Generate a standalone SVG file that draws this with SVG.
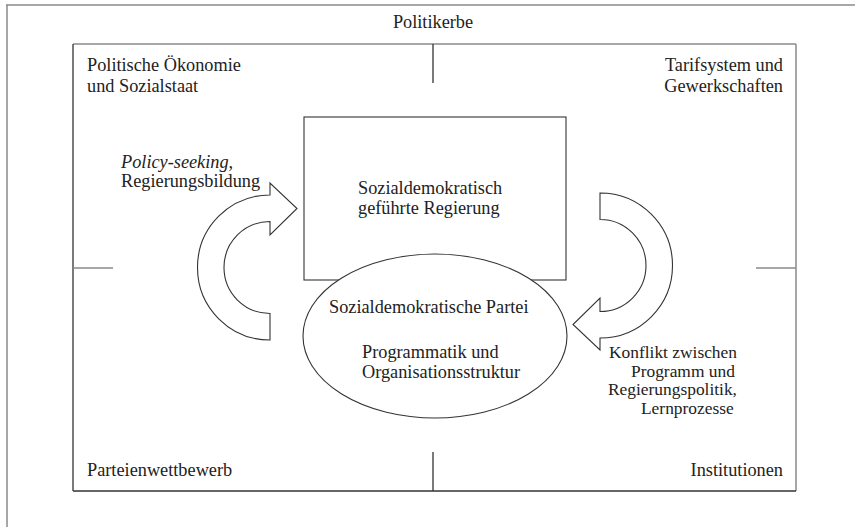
<svg xmlns="http://www.w3.org/2000/svg" width="855" height="527" viewBox="0 0 855 527">
<style>
text{font-family:"Liberation Serif","Times New Roman",serif;font-size:18.3px;fill:#222}
.it{font-style:italic}
.mid{text-anchor:middle}
.end{text-anchor:end}
.sm{font-size:17.4px}
.dark{stroke:#333;stroke-width:1.3;fill:none}
.gray{stroke:#8a8a8a;stroke-width:1.5;fill:none}
.shape{stroke:#333;stroke-width:1.1;fill:#fff}
</style>
<defs>
<path id="curl" d="M270 340 A72.5 72.5 0 0 1 270 195 L270 183 L297 208.5 L270 235 L270 221.5 A46 46 0 0 0 270 313.5 Z"/>
</defs>
<rect width="855" height="527" fill="#fff"/>
<g id="frame">
<line class="gray" x1="6" y1="5" x2="855" y2="5"/>
<line class="gray" x1="7" y1="5" x2="7" y2="527"/>
<line class="gray" x1="73" y1="44" x2="796" y2="44"/>
<line class="gray" x1="796" y1="44" x2="796" y2="491"/>
<line class="dark" x1="73" y1="491" x2="796" y2="491"/>
<line class="dark" x1="73" y1="44" x2="73" y2="491"/>
<line class="dark" x1="433" y1="44" x2="433" y2="83"/>
<line class="dark" x1="433" y1="452" x2="433" y2="491"/>
<line class="gray" x1="73" y1="268" x2="113" y2="268"/>
<line class="gray" x1="756" y1="268" x2="796" y2="268"/>
</g>
<g id="labels">
<text class="mid" x="433" y="28">Politikerbe</text>
<text x="87" y="71">Politische Ökonomie</text>
<text x="87" y="92">und Sozialstaat</text>
<text class="end" x="783" y="71">Tarifsystem und</text>
<text class="end" x="783" y="92">Gewerkschaften</text>
<text x="87" y="476">Parteienwettbewerb</text>
<text class="end" x="783" y="476">Institutionen</text>
</g>
<g id="government">
<rect class="shape" x="304" y="117" width="262" height="163"/>
<text x="358" y="194">Sozialdemokratisch</text>
<text x="358" y="214">geführte Regierung</text>
</g>
<g id="party">
<ellipse class="shape" cx="435" cy="336" rx="132" ry="82"/>
<text x="329" y="313">Sozialdemokratische Partei</text>
<text x="362" y="358">Programmatik und</text>
<text x="362" y="378">Organisationsstruktur</text>
</g>
<g id="connectors">
<use href="#curl" class="shape"/>
<use href="#curl" class="shape" transform="rotate(180 435 266.5)"/>
</g>
<g id="connector-labels">
<text class="it" x="121" y="167.5">Policy-seeking,</text>
<text x="121" y="187">Regierungsbildung</text>
<text class="sm" x="609" y="358">Konflikt zwischen</text>
<text class="sm" x="631" y="376.5">Programm und</text>
<text class="sm" x="608" y="395">Regierungspolitik,</text>
<text class="sm" x="641" y="413.5">Lernprozesse</text>
</g>
</svg>
